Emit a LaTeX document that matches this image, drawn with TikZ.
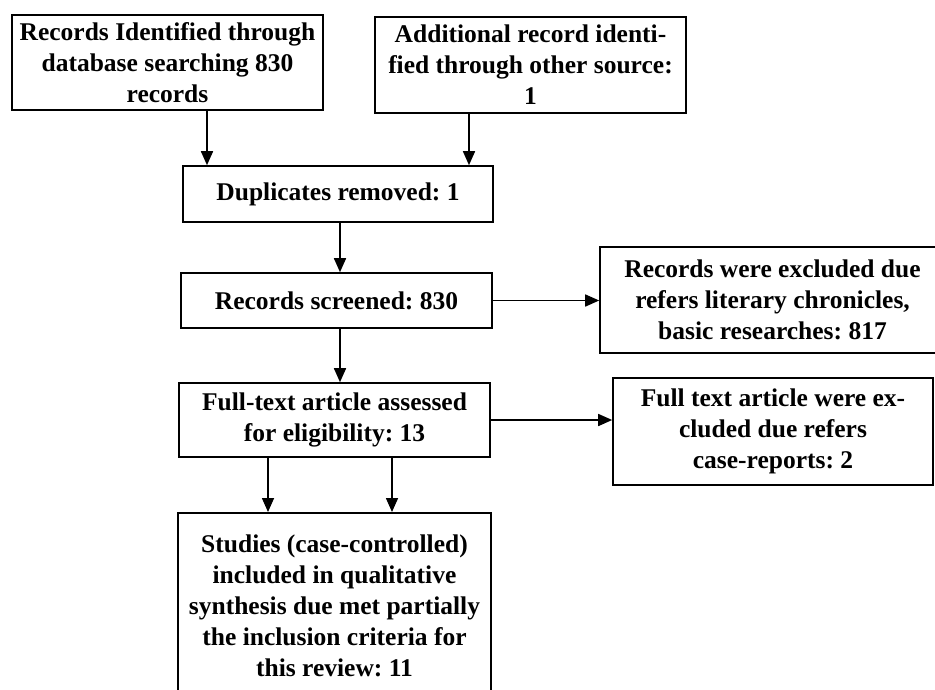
\documentclass[tikz,border=0pt]{standalone}
\usepackage{fontspec}
\setmainfont{Liberation Serif}
\usetikzlibrary{arrows.meta}
\frenchspacing

\tikzset{
  flowbox/.style={draw, line width=1.6pt, inner sep=0pt, align=center,
    font=\bfseries\fontsize{25.5}{31}\selectfont},
  flowarrow/.style={-{Triangle[length=14pt,width=12pt]}, line width=1.6pt}
}

\begin{document}
\begin{tikzpicture}[x=1pt, y=-1pt]
\useasboundingbox (0,0) rectangle (935,689);
\clip (0,0) rectangle (935,689);

% identification
\node[flowbox, minimum width=311pt, minimum height=95pt] (ident) at (167.5,62.5)
  {Records Identified through\\database searching 830\\records};
\node[flowbox, minimum width=311pt, minimum height=96pt] (other) at (530.5,65)
  {Additional record identi-\\fied through other source:\\1};
\node[flowbox, minimum width=310pt, minimum height=56pt] (dup) at (338,194)
  {Duplicates removed: 1};

% screening
\node[flowbox, minimum width=311pt, minimum height=55pt] (screened) at (336.5,300.5)
  {Records screened: 830};
\node[flowbox, minimum width=345pt, minimum height=106pt] (excl) at (772.5,300)
  {Records were excluded due\\refers literary chronicles,\\basic researches: 817};

% eligibility
\node[flowbox, minimum width=311pt, minimum height=74pt] (full) at (334.5,420)
  {Full-text article assessed\\for eligibility: 13};
\node[flowbox, minimum width=320pt, minimum height=107pt] (fullexcl) at (773,431.5)
  {Full text article were ex-\\cluded due refers\\case-reports: 2};

% included
\node[flowbox, minimum width=313pt, minimum height=186pt, anchor=north] (studies) at (334.5,512)
  {Studies (case-controlled)\\included in qualitative\\synthesis due met partially\\the inclusion criteria for\\this review: 11};

\draw[flowarrow] ([xshift=39.5pt]ident.south) -- ([xshift=39.5pt]ident.south |- dup.north);
\draw[flowarrow] ([xshift=-61.5pt]other.south) -- ([xshift=-61.5pt]other.south |- dup.north);
\draw[flowarrow] ([xshift=2pt]dup.south) -- ([xshift=2pt]dup.south |- screened.north);
\draw[flowarrow] (screened.east) -- (screened.east -| excl.west);
\draw[flowarrow] ([xshift=3.5pt]screened.south) -- ([xshift=3.5pt]screened.south |- full.north);
\draw[flowarrow] (full.east) -- (full.east -| fullexcl.west);
\draw[flowarrow] ([xshift=-66.5pt]full.south) -- ([xshift=-66.5pt]full.south |- studies.north);
\draw[flowarrow] ([xshift=57.5pt]full.south) -- ([xshift=57.5pt]full.south |- studies.north);
\end{tikzpicture}
\end{document}
